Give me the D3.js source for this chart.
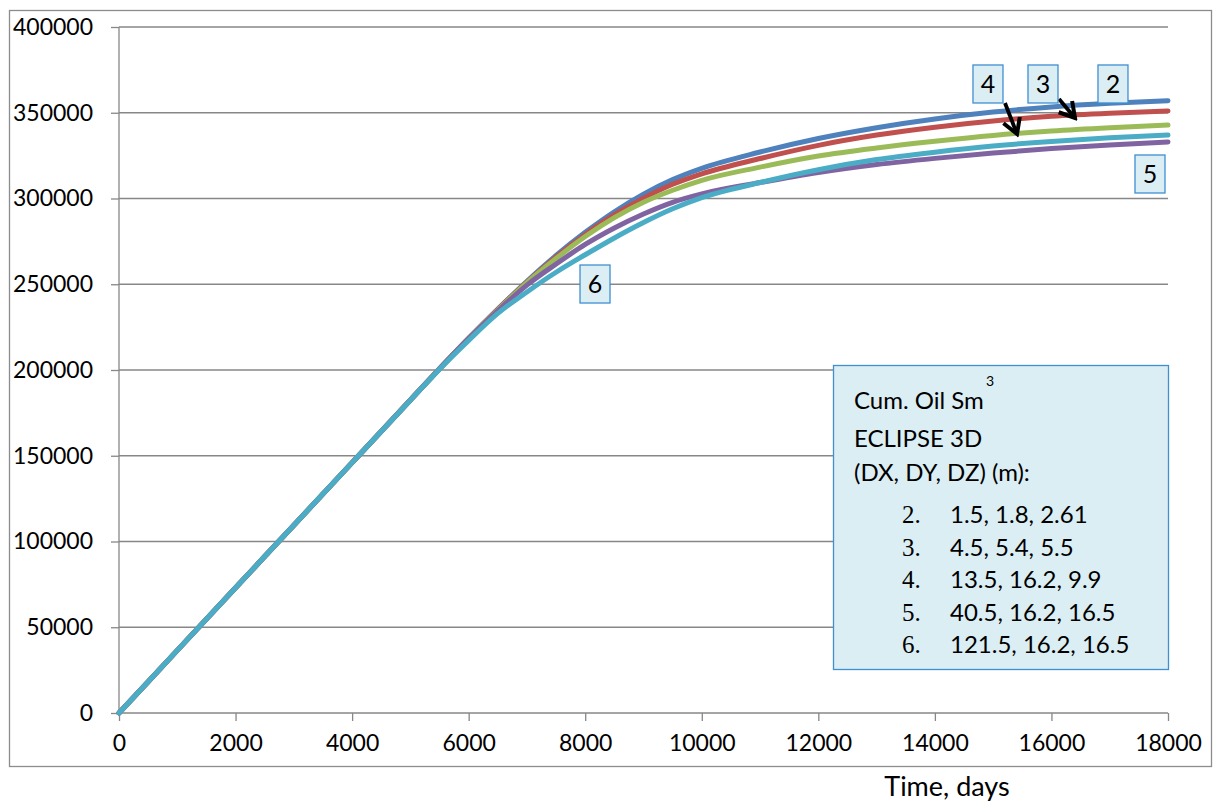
<!DOCTYPE html>
<html>
<head>
<meta charset="utf-8">
<script src="https://cdn.jsdelivr.net/npm/d3@7/dist/d3.min.js"></script>
<style>
  html, body { margin: 0; padding: 0; background: #fff; }
  svg { display: block; }
  .tick text { font-family: Lato, "Open Sans", sans-serif; font-size: 23px; fill: #000; }
</style>
</head>
<body>
<svg id="chart" width="1220" height="803"></svg>
<script>
// Time axis (days)
const days = [0, 1000, 2000, 3000, 4000, 5000, 5500, 6000, 6500, 7000, 7500, 8000, 8500,
              9000, 9500, 10000, 11000, 12000, 13000, 14000, 15000, 16000, 17000, 18000];

// Cumulative oil (Sm3) for each grid resolution case
const case2 = [0, 36500, 73000, 109500, 146000, 182500, 200750, 218500, 235500, 251750, 266750, 280250, 292250,
               302500, 311000, 317600, 327100, 335000, 341300, 346400, 350400, 353400, 355500, 357000];
const case3 = [0, 36500, 73000, 109500, 146000, 182500, 200750, 218500, 235300, 251250, 265950, 279050, 290550,
               300200, 308300, 314400, 323300, 331000, 337000, 341600, 345200, 347900, 349700, 351000];
const case4 = [0, 36500, 73000, 109500, 146000, 182500, 200750, 218400, 235000, 251000, 265000, 277800, 288800,
               297800, 304800, 310600, 318300, 324800, 329500, 333400, 336800, 339400, 341300, 342800];
const case5 = [0, 36500, 73000, 109500, 146000, 182500, 200750, 218300, 234500, 249500, 261800, 273200, 282800,
               291000, 297800, 302700, 309300, 315200, 319800, 323400, 326500, 329100, 331200, 333000];
const case6 = [0, 36500, 73000, 109500, 146000, 182400, 200500, 217300, 233000, 245500, 257000, 267200, 277000,
               286000, 294000, 300500, 309300, 316800, 322700, 327000, 330600, 333300, 335400, 337000];

const seriesNames = ["2", "3", "4", "5", "6"];
const seriesValues = [case2, case3, case4, case5, case6];
const seriesColors = ["#4f81bd", "#c0504d", "#9bbb59", "#8064a2", "#4bacc6"];

const xTicks = [0, 2000, 4000, 6000, 8000, 10000, 12000, 14000, 16000, 18000];
const yTicks = [0, 50000, 100000, 150000, 200000, 250000, 300000, 350000, 400000];

// Case-number tags on the curves: [text, day, value]
const tagLabels = [["4", 14911, 366770], ["3", 15855, 366770], ["2", 17056, 366770],
                   ["5", 17691, 314290], ["6", 8168, 250140]];
// Pointer arrows: [fromDay, fromValue, toDay, toValue]
const pointers = [[15203, 355690, 15409, 337610], [16130, 358020, 16404, 346940]];

const legendTitle = ["Cum. Oil Sm", "ECLIPSE 3D", "(DX, DY, DZ) (m):"];
const legendRows = [["2.", "1.5, 1.8, 2.61"], ["3.", "4.5, 5.4, 5.5"], ["4.", "13.5, 16.2, 9.9"],
                    ["5.", "40.5, 16.2, 16.5"], ["6.", "121.5, 16.2, 16.5"]];

const FONT = 'Lato, "Open Sans", sans-serif';
const svg = d3.select("#chart");
const plotL = 119, plotR = 1168, plotT = 27, plotB = 713;

const x = d3.scaleLinear().domain([0, 18000]).range([plotL, plotR]);
const y = d3.scaleLinear().domain([0, 400000]).range([plotB, plotT]);

// outer frame
svg.append("rect").attr("x", 9.5).attr("y", 10.5).attr("width", 1202).attr("height", 756)
  .attr("fill", "#fff").attr("stroke", "#8c8c8c").attr("stroke-width", 1.3);

// horizontal gridlines
svg.append("g").selectAll("line").data(yTicks.filter(d => d > 0)).join("line")
  .attr("x1", plotL).attr("x2", plotR).attr("y1", d => y(d)).attr("y2", d => y(d))
  .attr("stroke", "#878787").attr("stroke-width", 1.3);

// axes
const yAxis = svg.append("g").attr("transform", `translate(${plotL},0)`)
  .call(d3.axisLeft(y).tickValues(yTicks).tickFormat(d3.format("d")).tickSize(8).tickPadding(18));
const xAxis = svg.append("g").attr("transform", `translate(0,${plotB})`)
  .call(d3.axisBottom(x).tickValues(xTicks).tickFormat(d3.format("d")).tickSize(8).tickPadding(14));
[yAxis, xAxis].forEach(g => {
  g.select(".domain").attr("stroke", "#878787").attr("stroke-width", 1.3);
  g.selectAll(".tick line").attr("stroke", "#878787").attr("stroke-width", 1.3);
});
// plain domain lines without end stubs
yAxis.select(".domain").attr("d", `M0,${plotB}V${plotT}`);
xAxis.select(".domain").attr("d", `M${plotL},0H${plotR}`);

svg.append("text").attr("x", 947).attr("y", 796).attr("text-anchor", "middle")
  .attr("font-family", FONT).attr("font-size", 27).text("Time, days");

// curves
const line = d3.line().x((d, i) => x(days[i])).y(d => y(d)).curve(d3.curveMonotoneX);
svg.append("g").selectAll("path").data(seriesValues).join("path")
  .attr("d", line).attr("fill", "none")
  .attr("stroke", (d, i) => seriesColors[i]).attr("stroke-width", 5)
  .attr("stroke-linejoin", "round").attr("stroke-linecap", "round");

// arrows
const defs = svg.append("defs");
defs.append("marker").attr("id", "head").attr("viewBox", "0 0 12 12")
  .attr("refX", 10).attr("refY", 6)
  .attr("orient", "auto").attr("markerUnits", "userSpaceOnUse")
  .attr("markerWidth", 21).attr("markerHeight", 21)
  .append("path").attr("d", "M1.5,1 L10,6 L1.5,11").attr("fill", "none")
  .attr("stroke", "#000").attr("stroke-width", 2.3).attr("stroke-linejoin", "miter");
svg.append("g").selectAll("line").data(pointers).join("line")
  .attr("x1", d => x(d[0])).attr("y1", d => y(d[1]))
  .attr("x2", d => x(d[2])).attr("y2", d => y(d[3]))
  .attr("stroke", "#000").attr("stroke-width", 3.8).attr("marker-end", "url(#head)");

// case tags
const tags = svg.append("g").selectAll("g").data(tagLabels).join("g")
  .attr("transform", d => `translate(${x(d[1])},${y(d[2])})`);
tags.append("rect").attr("x", -15).attr("y", -19).attr("width", 30).attr("height", 38)
  .attr("fill", "#dbeef4").attr("stroke", "#3f8fd2").attr("stroke-width", 1.3);
tags.append("text").attr("text-anchor", "middle").attr("y", 9)
  .attr("font-family", FONT).attr("font-size", 25).text(d => d[0]);

// description box
const lg = svg.append("g").attr("transform", "translate(833,365)");
lg.append("rect").attr("x", 0.5).attr("y", 0.5).attr("width", 335).attr("height", 304)
  .attr("fill", "#dbeef4").attr("stroke", "#3f8fd2").attr("stroke-width", 1.3);
lg.selectAll("text.title").data(legendTitle).join("text").attr("class", "title")
  .attr("x", 21).attr("y", (d, i) => [44, 82, 116][i])
  .attr("font-family", FONT).attr("font-size", 24).text(d => d);
lg.append("text").attr("x", 153).attr("y", 21).attr("font-family", FONT).attr("font-size", 14).text("3");
const rows = lg.selectAll("g.row").data(legendRows).join("g").attr("class", "row")
  .attr("transform", (d, i) => `translate(0,${158 + i * 32.5})`);
rows.append("text").attr("x", 69).attr("font-family", '"Liberation Serif", serif')
  .attr("font-size", 25).text(d => d[0]);
rows.append("text").attr("x", 117).attr("font-family", FONT).attr("font-size", 24).text(d => d[1]);
</script>
</body>
</html>
